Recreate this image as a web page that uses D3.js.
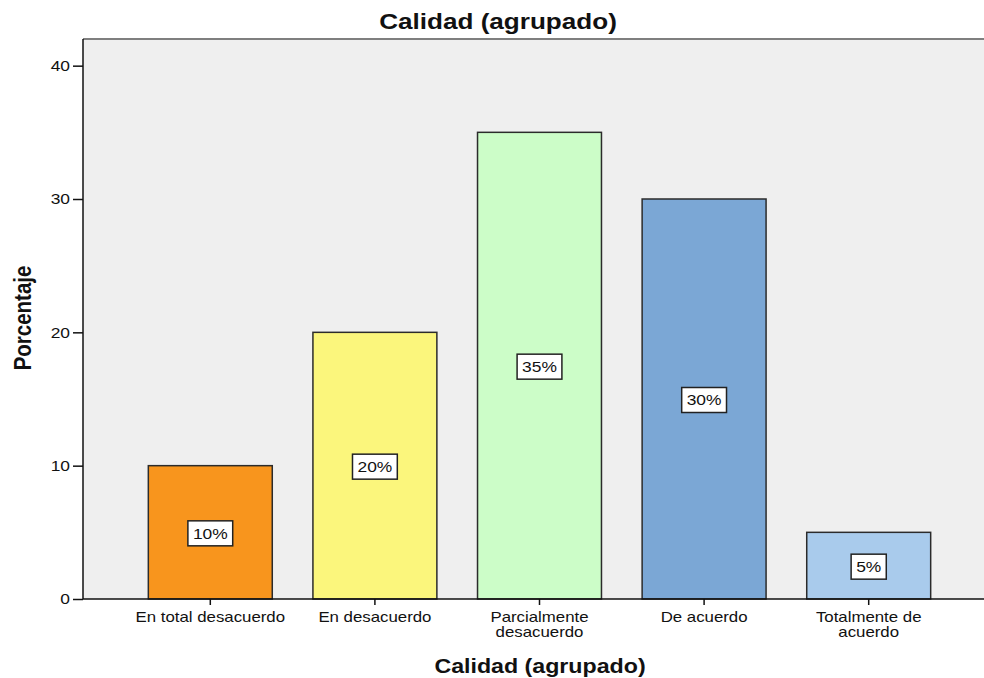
<!DOCTYPE html>
<html>
<head>
<meta charset="utf-8">
<script src="https://cdn.jsdelivr.net/npm/d3@7"></script>
<style>
  html, body { margin: 0; padding: 0; background: #fff; }
  svg { display: block; font-family: "Liberation Sans", Arial, sans-serif; }
</style>
</head>
<body>
<svg id="chart" width="984" height="678"></svg>
<script>
// Porcentaje por categoría de "Calidad (agrupado)"
const categories = [
  ["En total desacuerdo"],
  ["En desacuerdo"],
  ["Parcialmente", "desacuerdo"],
  ["De acuerdo"],
  ["Totalmente de", "acuerdo"]
];
const values = [10, 20, 35, 30, 5];
const labels = ["10%", "20%", "35%", "30%", "5%"];
const yTicks = [0, 10, 20, 30, 40];
const colors = ["#F8951D", "#FBF67C", "#CCFDC8", "#7BA7D5", "#A9CBEC"];

const svg = d3.select("#chart");
const plot = { left: 83, top: 39, right: 984, bottom: 599 };
const SX = 1.16; // horizontal text widening

const y = d3.scaleLinear().domain([0, 42]).range([plot.bottom, plot.top]);
const keys = categories.map(c => c.join(" "));
const x = d3.scaleBand()
  .domain(keys)
  .range([128, 951])
  .paddingInner(0.247)
  .paddingOuter(0.1235);

// Plot background
svg.append("rect")
  .attr("x", plot.left).attr("y", plot.top)
  .attr("width", plot.right - plot.left).attr("height", plot.bottom - plot.top)
  .attr("fill", "#EFEFEF");

// Top frame line
svg.append("line")
  .attr("x1", plot.left).attr("x2", plot.right)
  .attr("y1", plot.top).attr("y2", plot.top)
  .attr("stroke", "#7f7f7f").attr("stroke-width", 2);

// Bars
svg.append("g").selectAll("rect")
  .data(values)
  .join("rect")
  .attr("x", (d, i) => x(keys[i]))
  .attr("y", d => y(d))
  .attr("width", x.bandwidth())
  .attr("height", d => y(0) - y(d))
  .attr("fill", (d, i) => colors[i])
  .attr("stroke", "#2b2b2b")
  .attr("stroke-width", 1.5);

// Value labels in boxes at half bar height
const lab = svg.append("g").selectAll("g")
  .data(values)
  .join("g")
  .attr("transform", (d, i) => `translate(${x(keys[i]) + x.bandwidth() / 2},${y(d / 2) + 1})`);
lab.each(function(d, i) {
  const g = d3.select(this);
  const t = g.append("text")
    .attr("text-anchor", "middle")
    .attr("dy", "0.36em")
    .attr("font-size", 15)
    .attr("fill", "#111")
    .attr("transform", `scale(${SX},1)`)
    .text(labels[i]);
  const w = t.node().getBBox().width * SX;
  g.insert("rect", "text")
    .attr("x", -w / 2 - 5).attr("y", -12.5)
    .attr("width", w + 10).attr("height", 25)
    .attr("fill", "#fff")
    .attr("stroke", "#222")
    .attr("stroke-width", 1.5);
});

// Y axis
const yAxis = svg.append("g")
  .attr("transform", `translate(${plot.left},0)`)
  .call(d3.axisLeft(y).tickValues(yTicks).tickSize(10).tickPadding(3).tickFormat(d3.format("d")));
yAxis.select(".domain").attr("d", `M0,${plot.top}V${plot.bottom}`).attr("stroke", "#111").attr("stroke-width", 1.5);
yAxis.selectAll(".tick line").attr("stroke", "#111").attr("stroke-width", 1.5);
yAxis.selectAll(".tick text")
  .attr("font-size", 15).attr("fill", "#111")
  .attr("font-family", "Liberation Sans, Arial, sans-serif")
  .attr("x", -13 / SX)
  .attr("transform", `scale(${SX},1)`);

// X axis
const xAxis = svg.append("g")
  .attr("transform", `translate(0,${plot.bottom})`)
  .call(d3.axisBottom(x).tickSize(6).tickFormat(""));
xAxis.select(".domain").attr("d", `M${plot.left},0H${plot.right}`).attr("stroke", "#111").attr("stroke-width", 1.5);
xAxis.selectAll(".tick line").attr("stroke", "#111").attr("stroke-width", 1.5);
xAxis.selectAll(".tick").each(function(d, i) {
  const t = d3.select(this).append("text")
    .attr("text-anchor", "middle")
    .attr("font-size", 14.5)
    .attr("fill", "#111")
    .attr("transform", `scale(${SX},1)`)
    .attr("y", 23.5);
  categories[i].forEach((line, j) => {
    t.append("tspan").attr("x", 0).attr("dy", j === 0 ? 0 : 15).text(line);
  });
});

// Titles
svg.append("text")
  .attr("transform", `translate(498,29) scale(${SX},1)`)
  .attr("text-anchor", "middle")
  .attr("font-size", 22.5).attr("font-weight", "bold").attr("fill", "#111")
  .text("Calidad (agrupado)");

svg.append("text")
  .attr("transform", `translate(540,673) scale(${SX},1)`)
  .attr("text-anchor", "middle")
  .attr("font-size", 20).attr("font-weight", "bold").attr("fill", "#111")
  .text("Calidad (agrupado)");

svg.append("text")
  .attr("transform", `translate(31,318) scale(${SX},1) rotate(-90)`)
  .attr("text-anchor", "middle")
  .attr("font-size", 20.5).attr("font-weight", "bold").attr("fill", "#111")
  .text("Porcentaje");
</script>
</body>
</html>
